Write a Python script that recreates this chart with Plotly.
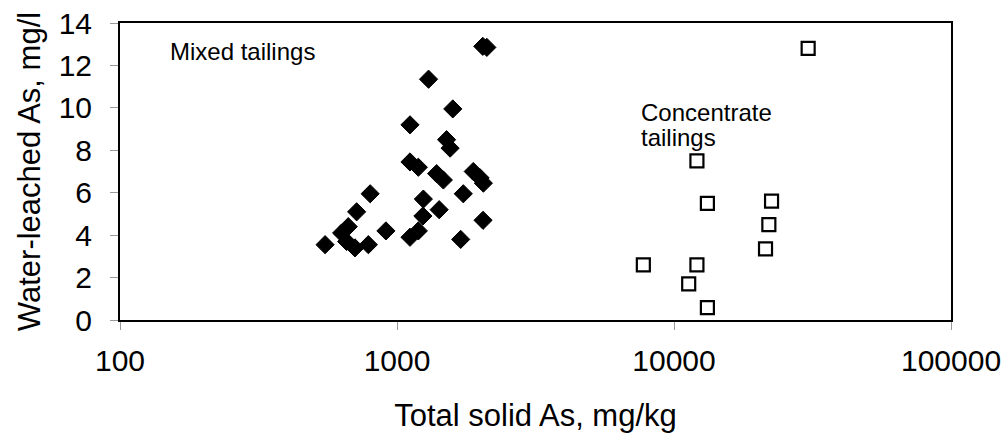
import plotly.graph_objects as go

# Mixed tailings (filled diamonds)
mixed_x = [2040, 2110, 1300, 1590, 1114, 1510, 1555, 1114, 1194, 1390, 1470,
           1885, 2050, 1995, 1735, 1245, 1420, 1240, 2045, 800, 715, 912,
           1114, 1194, 1698, 550, 631, 667, 658, 705, 788]
mixed_y = [12.9, 12.85, 11.35, 9.95, 9.2, 8.5, 8.1, 7.45, 7.2, 6.9, 6.6,
           7.0, 6.45, 6.7, 5.95, 5.7, 5.2, 4.9, 4.7, 5.95, 5.1, 4.2,
           3.9, 4.2, 3.8, 3.55, 4.1, 4.4, 3.7, 3.4, 3.55]

# Concentrate tailings (open squares)
conc_x = [30500, 12100, 13200, 22500, 22000, 21400, 7750, 12100, 11300, 13200]
conc_y = [12.8, 7.5, 5.5, 5.6, 4.5, 3.35, 2.6, 2.6, 1.7, 0.58]

y_ticks = [0, 2, 4, 6, 8, 10, 12, 14]
x_ticks = [100, 1000, 10000, 100000]

FONT = "Liberation Sans, Arial, sans-serif"

fig = go.Figure()
fig.add_trace(go.Scatter(
    x=mixed_x, y=mixed_y, mode="markers", name="Mixed tailings",
    marker=dict(symbol="diamond", size=14, color="black",
                line=dict(color="black", width=1)),
))
fig.add_trace(go.Scatter(
    x=conc_x, y=conc_y, mode="markers", name="Concentrate tailings",
    marker=dict(symbol="square-open", size=13, color="black",
                line=dict(color="black", width=2.2)),
))

fig.add_annotation(x=0.058, y=0.905, xref="paper", yref="paper",
                   text="Mixed tailings", showarrow=False,
                   xanchor="left", yanchor="middle",
                   font=dict(family=FONT, size=24, color="black"))
fig.add_annotation(x=0.625, y=0.70, xref="paper", yref="paper",
                   text="Concentrate", showarrow=False,
                   xanchor="left", yanchor="middle",
                   font=dict(family=FONT, size=24, color="black"))
fig.add_annotation(x=0.625, y=0.615, xref="paper", yref="paper",
                   text="tailings", showarrow=False,
                   xanchor="left", yanchor="middle",
                   font=dict(family=FONT, size=24, color="black"))

fig.update_layout(
    width=1003, height=435,
    margin=dict(l=120, r=52, t=23, b=115),
    paper_bgcolor="white", plot_bgcolor="white",
    showlegend=False,
    font=dict(family=FONT, color="black"),
    xaxis=dict(
        type="log", range=[2, 5], automargin=False,
        tickvals=x_ticks, ticktext=[str(v) for v in x_ticks],
        ticks="outside", ticklen=8, tickcolor="#999999", tickwidth=1,
        ticklabelstandoff=5, ticklabeloverflow="allow",
        showgrid=False, zeroline=False,
        showline=True, mirror=True, linecolor="black", linewidth=2,
        tickfont=dict(family=FONT, size=30),
        title=dict(text="Total solid As, mg/kg", font=dict(family=FONT, size=31),
                   standoff=28),
    ),
    yaxis=dict(
        range=[0, 14], automargin=False,
        tickvals=y_ticks,
        ticks="outside", ticklen=8, tickcolor="#999999", tickwidth=1,
        ticklabelstandoff=12, ticklabeloverflow="allow",
        showgrid=False, zeroline=False,
        showline=True, mirror=True, linecolor="black", linewidth=2,
        tickfont=dict(family=FONT, size=30),
        title=dict(text="Water-leached As, mg/l", font=dict(family=FONT, size=31),
                   standoff=9),
    ),
)

# remove the browser's default 8px body margin so the figure fills the window
fig.write_html("out.html",
               config={"displayModeBar": False},
               post_script="document.body.style.margin='0';"
                           "document.body.style.overflow='hidden';")
